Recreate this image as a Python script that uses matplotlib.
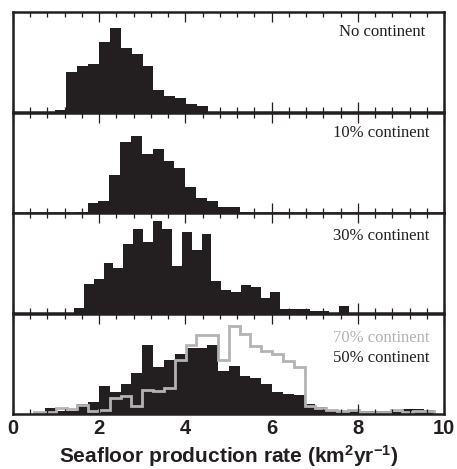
import matplotlib.pyplot as plt
import numpy as np

plt.rcParams["mathtext.fontset"] = "custom"
plt.rcParams["mathtext.rm"] = "Liberation Sans:bold"
plt.rcParams["mathtext.it"] = "Liberation Sans:bold"
plt.rcParams["mathtext.bf"] = "Liberation Sans:bold"

ink = "#231f20"
grey = "#b3b3b3"

# bin edges (km^2/yr)
edges_none = np.linspace(0.973, 4.53, 15)
edges_10 = np.linspace(1.478, 5.51, 17)
edges_30 = np.linspace(1.42, 7.79, 29)
edges_50 = np.linspace(0.741, 9.777, 37)
edges_70 = np.linspace(0.49, 9.777, 38)

# relative frequency (arbitrary units, panel height = 100)
freq_none = [2.7, 40.7, 46, 48.3, 70.3, 84.3, 64.3, 58.3, 46.3, 22.3, 16.3, 14, 8.3, 6.3]
freq_10 = [1.3, 10.3, 12.3, 38.3, 70.7, 77, 58.7, 64.3, 52, 44.7, 26, 15, 12, 5.7, 5.7, 1.3]
freq_30 = [5.7, 29, 34.3, 50.3, 45, 68.7, 84, 71, 91.7, 84, 47.3, 81.3, 63.3, 79,
           32.3, 23.5, 20.7, 28.3, 25.7, 15.7, 20.7, 4.7, 4.7, 4.7, 2.3, 2.3, 0.7, 7.3]
freq_50 = [5.7, 3, 3, 9.7, 12.3, 28, 22.3, 30, 40.7, 68.3, 46.3, 54, 60, 65.7, 65.7,
           68.3, 42.3, 48, 38, 35.7, 30, 22.3, 20, 19, 9.5, 6.5, 4, 3.3, 4, 3, 3,
           2.5, 2, 5, 5, 4]
freq_70 = [2, 2, 5.7, 4.5, 8.5, 3, 4, 15.5, 17.5, 7.5, 24, 22.5, 25.7, 54, 68.5,
           78.3, 78.3, 54, 88, 79.5, 68, 63, 60, 53, 47, 8, 6, 4, 2.5, 3.5, 2,
           1.5, 2, 4, 1.5, 2.5, 2.5]

panels = [
    (edges_none, freq_none, "No continent", 0.957, 0.76),
    (edges_10, freq_10, "10% continent", 0.966, 0.76),
    (edges_30, freq_30, "30% continent", 0.966, 0.725),
    (edges_50, freq_50, "50% continent", 0.966, 0.52),
]

fig = plt.figure(figsize=(4.57, 4.69), dpi=100)
left = 13 / 457
width = 431 / 457
tops = [12, 112.7, 212.8, 313.5]
h = 100.5

axes = []
for k, (edges, freq, label, tx, ty) in enumerate(panels):
    bottom = 1 - (tops[k] + h) / 469
    ax = fig.add_axes([left, bottom, width, h / 469])
    axes.append(ax)
    ax.stairs(freq, edges, fill=True, color=ink, linewidth=0)
    ax.set_xlim(0, 10)
    ax.set_ylim(0, 100)
    ax.set_yticks([])
    ax.set_xticks(np.arange(0, 11, 2))
    ax.set_xticks(np.arange(0, 10.01, 0.4), minor=True)
    ax.tick_params(axis="x", which="both", direction="in", top=True, bottom=True,
                   color=ink, width=0.9)
    ax.tick_params(axis="x", which="major", length=7.5)
    ax.tick_params(axis="x", which="minor", length=3.6)
    for s in ax.spines.values():
        s.set_linewidth(1.8)
        s.set_color(ink)
    ax.text(tx, ty, label, transform=ax.transAxes, ha="right", va="baseline",
            fontsize=12, family="Liberation Serif", color=ink)
    if k < 3:
        ax.tick_params(axis="x", labelbottom=False)

ax = axes[3]
ax.stairs(freq_70, edges_70, fill=False, color=grey, linewidth=2, baseline=0)
ax.text(0.966, 0.72, "70% continent", transform=ax.transAxes, ha="right",
        va="baseline", fontsize=12, family="Liberation Serif", color=grey)
ax.tick_params(axis="x", which="major", pad=3.5)
for t in ax.get_xticklabels():
    t.set_fontfamily("Liberation Sans")
    t.set_fontweight("bold")
    t.set_fontsize(14.5)
    t.set_color(ink)
ax.set_xlabel("Seafloor production rate (km$^{2}$yr$^{-1}$)", fontsize=15,
              family="Liberation Sans", fontweight="bold", color=ink, labelpad=4)

fig.savefig("out.png", dpi=100)
